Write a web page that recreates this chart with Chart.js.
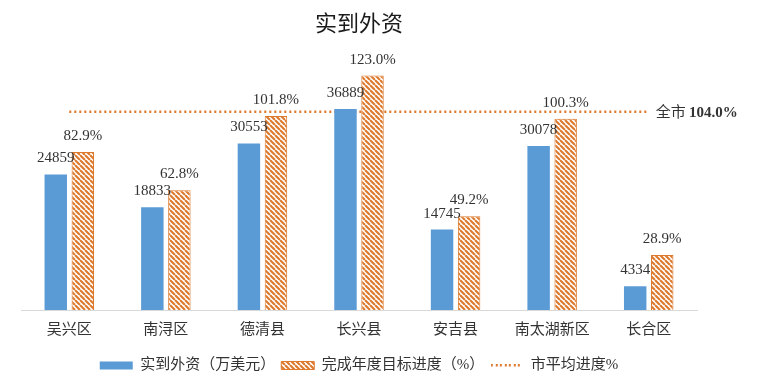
<!DOCTYPE html>
<html lang="zh-CN">
<head>
  <meta charset="UTF-8" />
  <title>实到外资</title>
  <script src="https://cdn.jsdelivr.net/npm/chart.js"></script>
  <style>
    html, body { margin: 0; padding: 0; background: #fff; }
    #wrap { width: 768px; height: 392px; }
  </style>
</head>
<body>
  <div id="wrap"><canvas id="fdiChart"></canvas></div>

  <script>
    // data
    const districts = ['吴兴区', '南浔区', '德清县', '长兴县', '安吉县', '南太湖新区', '长合区'];
    const actualFdi = [24859, 18833, 30553, 36889, 14745, 30078, 4334];       // 万美元
    const targetProgress = [82.9, 62.8, 101.8, 123.0, 49.2, 100.3, 28.9];    // %
    const cityAverage = [104.0, 104.0, 104.0, 104.0, 104.0, 104.0, 104.0];  // %

    const BLUE = '#5B9BD5';
    const ORANGE = '#DD7A2E';
    const TEXT = '#333';
    const SERIF = '"Liberation Serif", "Noto Sans CJK SC", serif';
    const CJK = '"Noto Sans CJK SC", sans-serif';

    const canvas = document.getElementById('fdiChart');
    const ctx = canvas.getContext('2d');

    // diagonal stripes for the target-progress bars
    function makeHatch(color) {
      const s = 5;
      const c = document.createElement('canvas');
      c.width = s; c.height = s;
      const g = c.getContext('2d');
      g.fillStyle = '#fff';
      g.fillRect(0, 0, s, s);
      g.strokeStyle = color;
      g.lineWidth = 2.1;
      g.beginPath();
      for (let k = -1; k <= 1; k++) {
        g.moveTo(k * s, 0);
        g.lineTo(k * s + s, s);
      }
      g.stroke();
      return ctx.createPattern(c, 'repeat');
    }
    const hatch = makeHatch(ORANGE);

    // little dotted stroke for the legend entry of the average line
    function makeDotted(color) {
      const c = document.createElement('canvas');
      c.width = 32; c.height = 3;
      const g = c.getContext('2d');
      g.fillStyle = color;
      for (let x = 0; x < 32; x += 4.5) g.fillRect(Math.round(x), 0, 2, 2.5);
      return c;
    }
    const dottedKey = makeDotted(ORANGE);

    // numbers above bars + the "全市" tag at the end of the average line
    const valueLabels = {
      id: 'valueLabels',
      afterDatasetsDraw(chart) {
        const c = chart.ctx;
        c.save();
        c.fillStyle = TEXT;
        c.font = '15px ' + SERIF;
        c.textAlign = 'center';
        c.textBaseline = 'alphabetic';
        chart.getDatasetMeta(0).data.forEach((bar, i) => {
          c.fillText(String(actualFdi[i]), bar.x, bar.y - 12);
        });
        chart.getDatasetMeta(1).data.forEach((bar, i) => {
          c.fillText(targetProgress[i].toFixed(1) + '%', bar.x, bar.y - 12);
        });

        const pts = chart.getDatasetMeta(2).data;
        const last = pts[pts.length - 1];
        c.textAlign = 'left';
        c.textBaseline = 'middle';
        c.font = '15px ' + CJK;
        const x0 = last.x + 7;
        c.fillText('全市', x0, last.y);
        const w = c.measureText('全市 ').width;
        c.font = 'bold 15px ' + SERIF;
        c.fillText(cityAverage[cityAverage.length - 1].toFixed(1) + '%', x0 + w, last.y + 1);
        c.restore();
      }
    };

    new Chart(ctx, {
      data: {
        labels: districts,
        datasets: [
          {
            type: 'bar',
            label: '实到外资（万美元）',
            data: actualFdi,
            backgroundColor: BLUE,
            borderWidth: 0,
            pointStyle: 'rect',
            yAxisID: 'y',
            order: 1
          },
          {
            type: 'bar',
            label: '完成年度目标进度（%）',
            data: targetProgress,
            backgroundColor: hatch,
            borderColor: ORANGE,
            borderWidth: 1,
            pointStyle: 'rect',
            yAxisID: 'y1',
            order: 2
          },
          {
            type: 'line',
            label: '市平均进度%',
            data: cityAverage,
            borderColor: ORANGE,
            borderWidth: 2.5,
            borderDash: [2, 3],
            pointRadius: 0,
            fill: false,
            yAxisID: 'y1',
            order: 10
          }
        ]
      },
      options: {
        responsive: true,
        maintainAspectRatio: false,
        animation: false,
        layout: { padding: { left: 21, right: 71, top: 0, bottom: 9 } },
        datasets: {
          bar: { categoryPercentage: 0.56, barPercentage: 0.83 }
        },
        plugins: {
          title: {
            display: true,
            text: '实到外资',
            color: '#1a1a1a',
            font: { family: CJK, size: 22, weight: 'normal' },
            padding: { top: 9, bottom: 2 }
          },
          legend: {
            position: 'bottom',
            labels: {
              usePointStyle: true,
              pointStyleWidth: 33,
              boxWidth: 33,
              boxHeight: 8,
              color: TEXT,
              font: { family: SERIF, size: 15 },
              padding: 6,
              generateLabels(chart) {
                const items = Chart.defaults.plugins.legend.labels.generateLabels(chart);
                items[2].pointStyle = dottedKey;
                return items;
              }
            }
          },
          tooltip: { enabled: false }
        },
        scales: {
          x: {
            grid: { display: false, drawTicks: false },
            border: { display: true, color: '#d9d9d9', width: 1 },
            ticks: { color: TEXT, font: { family: CJK, size: 15 }, padding: 9 },
            afterFit(scale) { scale.height += 6; }
          },
          y: { display: false, min: 0, max: 50000 },
          y1: { display: false, min: 0, max: 143, position: 'right' }
        }
      },
      plugins: [valueLabels]
    });
  </script>
</body>
</html>
